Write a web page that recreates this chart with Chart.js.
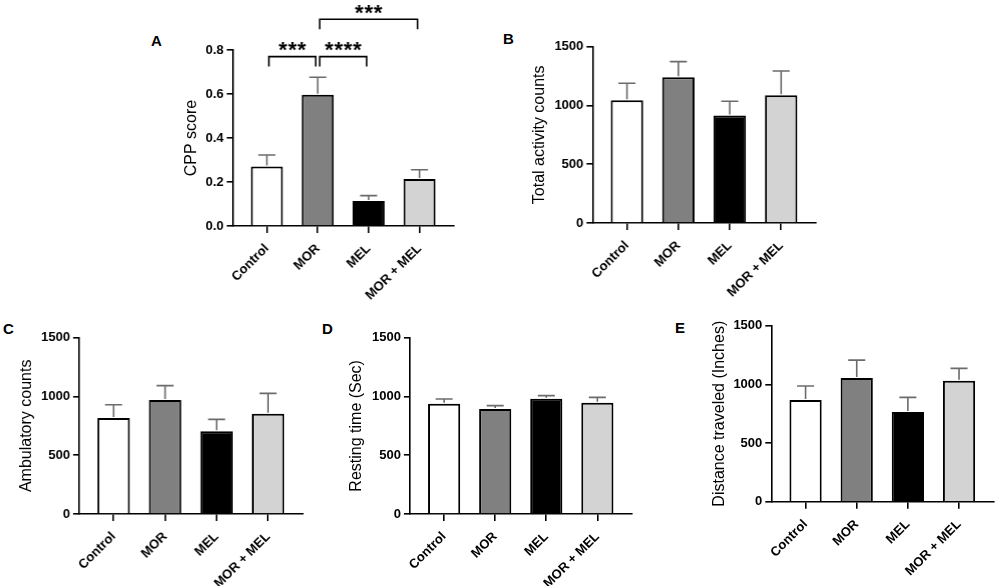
<!DOCTYPE html>
<html><head><meta charset="utf-8">
<script src="https://cdn.jsdelivr.net/npm/chart.js@4.4.1/dist/chart.umd.min.js"></script>
<style>
html,body{margin:0;padding:0;background:#fff;width:1000px;height:586px;overflow:hidden;position:relative;font-family:"Liberation Sans",Arial,sans-serif}
.panel{position:absolute}
.letter{position:absolute;font-weight:bold;font-size:15px;line-height:15px;color:#000}
</style></head><body>
<div class="letter" style="left:151px;top:33px">A</div>
<div class="letter" style="left:503px;top:31px">B</div>
<div class="letter" style="left:3px;top:321px">C</div>
<div class="letter" style="left:322px;top:321px">D</div>
<div class="letter" style="left:675px;top:320px">E</div>
<div class="panel" style="left:178.4px;top:0px;width:291.6px;height:310px"><canvas id="cA"></canvas></div>
<div class="panel" style="left:526.4px;top:0px;width:303.2px;height:307px"><canvas id="cB"></canvas></div>
<div class="panel" style="left:13.1px;top:310px;width:306.9px;height:276px"><canvas id="cC"></canvas></div>
<div class="panel" style="left:343.1px;top:310px;width:321.2px;height:276px"><canvas id="cD"></canvas></div>
<div class="panel" style="left:705.7px;top:300px;width:294.3px;height:286px"><canvas id="cE"></canvas></div>
<script>
// ---- data ----
const categories = ['Control', 'MOR', 'MEL', 'MOR + MEL'];

const cppMean = [0.270, 0.597, 0.114, 0.214];
const cppErr  = [0.053, 0.079, 0.024, 0.042];
const cppTicks = [0, 0.2, 0.4, 0.6, 0.8];

const totalMean = [1044, 1240, 914, 1087];
const totalErr  = [145, 133, 122, 206];

const ambMean = [817, 970, 703, 853];
const ambErr  = [113, 122, 102, 173];

const restMean = [939, 893, 981, 947];
const restErr  = [39, 29, 26, 45];

const distMean = [866, 1054, 764, 1031];
const distErr  = [120, 153, 125, 105];

const countTicks = [0, 500, 1000, 1500];

// significance brackets (panel A)
const sigFrom  = [0, 1, 1];
const sigTo    = [1, 2, 3];
const sigLevel = [0.77, 0.77, 0.94];
const sigLabel = ['***', '****', '***'];

// ---- styles ----
const FONT = '"Liberation Sans", Arial, sans-serif';
const barFills = ['#ffffff', '#808080', '#000000', '#d3d3d3'];
Chart.defaults.font.family = FONT;
Chart.defaults.color = '#000';

const errorBarPlugin = {
  id: 'errorBars',
  afterDatasetsDraw(chart) {
    const ctx = chart.ctx, ys = chart.scales.y;
    chart.data.datasets.forEach((ds, di) => {
      const meta = chart.getDatasetMeta(di);
      meta.data.forEach((bar, i) => {
        const top = ys.getPixelForValue(ds.data[i].y + ds.errors[i]);
        ctx.save();
        ctx.strokeStyle = '#6b6b6b';
        ctx.lineWidth = 1.6;
        ctx.beginPath();
        ctx.moveTo(bar.x, bar.y - 1);
        ctx.lineTo(bar.x, top);
        ctx.moveTo(bar.x - 8.5, top);
        ctx.lineTo(bar.x + 8.5, top);
        ctx.stroke();
        ctx.restore();
      });
    });
  }
};

const bracketPlugin = {
  id: 'brackets',
  afterDraw(chart, args, opts) {
    if (!opts || !opts.from) return;
    const ctx = chart.ctx, xs = chart.scales.x, ys = chart.scales.y;
    opts.from.forEach((f, k) => {
      const x1 = xs.getPixelForValue(f) + 2;
      const x2 = xs.getPixelForValue(opts.to[k]) - 2;
      const y = ys.getPixelForValue(opts.level[k]);
      ctx.save();
      ctx.strokeStyle = '#000';
      ctx.lineWidth = 1.6;
      ctx.beginPath();
      ctx.moveTo(x1, y + 10);
      ctx.lineTo(x1, y);
      ctx.lineTo(x2, y);
      ctx.lineTo(x2, y + 10);
      ctx.stroke();
      ctx.fillStyle = '#000';
      ctx.font = 'bold 22px ' + FONT;
      ctx.textAlign = 'left';
      ctx.textBaseline = 'alphabetic';
      const lab = opts.labels[k];
      const step = 9.3;
      const w = step * lab.length;
      const cx = (x1 + x2) / 2;
      for (let j = 0; j < lab.length; j++) {
        const cw = ctx.measureText(lab[j]).width;
        ctx.fillText(lab[j], cx - w / 2 + j * step + (step - cw) / 2, y + 0.5);
      }
      ctx.restore();
    });
  }
};

function makePanel(id, means, errs, ticks, title, layout, decimals, brackets) {
  const axisLine = {color: '#000', width: 1.6};
  const gridCfg = {drawOnChartArea: false, drawTicks: true, tickLength: 6, color: '#000', lineWidth: 1.6};
  new Chart(document.getElementById(id), {
    type: 'bar',
    data: {
      datasets: [{
        data: means.map((v, i) => ({x: i, y: v})),
        errors: errs,
        backgroundColor: barFills,
        borderColor: '#000',
        borderWidth: 2,
        barPercentage: 0.63,
        categoryPercentage: 1
      }]
    },
    options: {
      responsive: true,
      maintainAspectRatio: false,
      animation: false,
      layout: {padding: {top: layout.pt, right: layout.pr, left: 0, bottom: 0}},
      plugins: {
        legend: {display: false},
        tooltip: {enabled: false},
        brackets: brackets || {}
      },
      scales: {
        x: {
          type: 'linear',
          min: -0.67, max: 3.67,
          offset: false,
          afterBuildTicks: s => { s.ticks = categories.map((c, i) => ({value: i})); },
          afterFit: s => { s.height = layout.xh; },
          border: axisLine,
          grid: Object.assign({}, gridCfg, {offset: false, tickLength: 7}),
          ticks: {
            color: '#000',
            font: {family: FONT, size: 13, weight: 'bold'},
            minRotation: 45, maxRotation: 45, autoSkip: false, padding: 8,
            callback: v => categories[v]
          }
        },
        y: {
          min: 0, max: ticks[ticks.length - 1],
          afterBuildTicks: s => { s.ticks = ticks.map(v => ({value: v})); },
          afterFit: s => { s.width = layout.yw; },
          border: axisLine,
          grid: gridCfg,
          ticks: {
            color: '#000',
            font: {family: FONT, size: 13, weight: 'bold'},
            padding: 3,
            callback: v => decimals ? Number(v).toFixed(decimals) : String(v)
          },
          title: {display: true, text: title, color: '#000', font: {family: FONT, size: 16}, padding: {top: 4, bottom: 4}}
        }
      }
    },
    plugins: [errorBarPlugin, bracketPlugin]
  });
}

makePanel('cA', cppMean, cppErr, cppTicks, 'CPP score', {pt: 50, pr: 17, xh: 84, yw: 54.6}, 1,
  {from: sigFrom, to: sigTo, level: sigLevel, labels: sigLabel});
makePanel('cB', totalMean, totalErr, countTicks, 'Total activity counts', {pt: 46.7, pr: 14.6, xh: 84, yw: 66.3}, 0);
makePanel('cC', ambMean, ambErr, countTicks, 'Ambulatory counts', {pt: 27.7, pr: 18.3, xh: 72, yw: 65.9}, 0);
makePanel('cD', restMean, restErr, countTicks, 'Resting time (Sec)', {pt: 27.7, pr: 32.6, xh: 72, yw: 66.9}, 0);
makePanel('cE', distMean, distErr, countTicks, 'Distance traveled (Inches)', {pt: 25.7, pr: 7, xh: 84.3, yw: 65.3}, 0);
</script>
</body></html>
